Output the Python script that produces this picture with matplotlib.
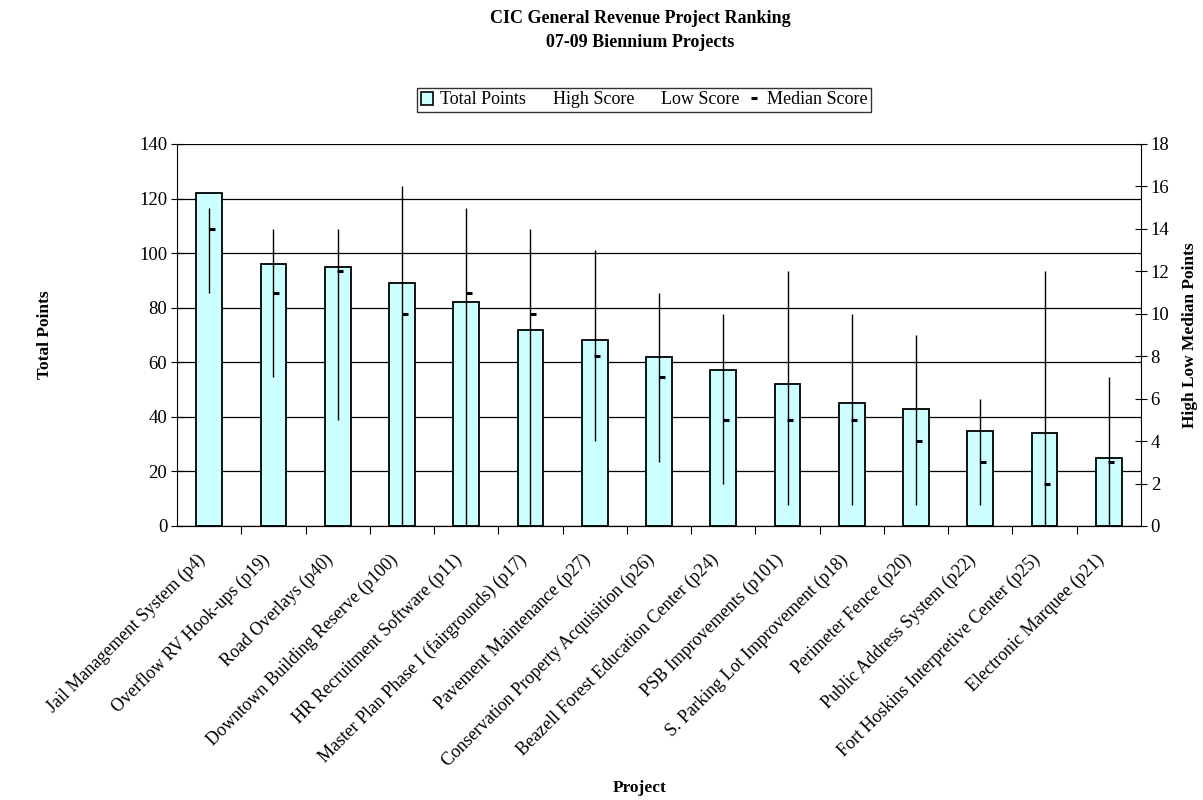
import matplotlib
matplotlib.use("Agg")
import matplotlib.pyplot as plt
import matplotlib.transforms as mtransforms
from matplotlib.lines import Line2D
from matplotlib.patches import Patch

projects = [
    "Jail Management System (p4)", "Overflow RV Hook-ups (p19)", "Road Overlays (p40)",
    "Downtown Building Reserve (p100)", "HR Recruitment Software (p11)",
    "Master Plan Phase I (fairgrounds) (p17)", "Pavement Maintenance (p27)",
    "Conservation Property Acquisition (p26)", "Beazell Forest Education Center (p24)",
    "PSB Improvements (p101)", "S. Parking Lot Improvement (p18)", "Perimeter Fence (p20)",
    "Public Address System (p22)", "Fort Hoskins Interpretive Center (p25)",
    "Electronic Marquee (p21)",
]
total_points = [122, 96, 95, 89, 82, 72, 68, 62, 57, 52, 45, 43, 35, 34, 25]
high_score = [15, 14, 14, 16, 15, 14, 13, 11, 10, 12, 10, 9, 6, 12, 7]
low_score = [11, 7, 5, 0, 0, 0, 4, 3, 2, 1, 1, 1, 1, 0, 0]
median_score = [14, 11, 12, 10, 11, 10, 8, 7, 5, 5, 5, 4, 3, 2, 3]

plt.rcParams["font.family"] = ["Liberation Serif", "DejaVu Serif"]
FS = 13.5

fig = plt.figure(figsize=(12.03, 8), dpi=100)
ax = fig.add_axes([177 / 1203, 1 - 526 / 800, (1141 - 177) / 1203, (526 - 144) / 800])
x = list(range(len(projects)))

ax.bar(x, total_points, width=0.4, color="#ccffff", edgecolor="black", linewidth=1.3, zorder=2)
ax.set_xlim(-0.5, len(projects) - 0.5)
ax.set_ylim(0, 140)
ax.set_yticks(range(0, 141, 20))
ax.yaxis.grid(True, color="black", linewidth=0.9)
ax.set_axisbelow(True)
ax.tick_params(axis="y", direction="inout", length=8, labelsize=FS, pad=3)
ax.set_xticks([i + 0.5 for i in x[:-1]])
ax.set_xticklabels([])
ax.tick_params(axis="x", direction="out", length=6)
for s in ["top", "right"]:
    ax.spines[s].set_visible(False)

# category labels, rotated, anchored a little left of and below each bar
lab_tr = mtransforms.blended_transform_factory(ax.transData, ax.transAxes) + \
    mtransforms.ScaledTranslation(-0.13, -0.25, fig.dpi_scale_trans)
for i, name in zip(x, projects):
    ax.text(i, 0, name, transform=lab_tr, rotation=45, ha="right", va="top",
            rotation_mode="anchor", fontsize=13)

ax2 = ax.twinx()
ax2.set_ylim(0, 18)
ax2.set_yticks(range(0, 19, 2))
ax2.tick_params(axis="y", direction="inout", length=8, labelsize=FS, pad=3)
for s in ["top", "left"]:
    ax2.spines[s].set_visible(False)
ax2.vlines(x, low_score, high_score, color="black", linewidth=1)
ax2.plot([i + 0.04 for i in x], median_score, ls="none", marker="_", ms=5, mew=2.2, color="black")

fig.text(0.532, 0.988, "CIC General Revenue Project Ranking\n07-09 Biennium Projects",
         ha="center", va="top", fontsize=13, fontweight="bold", linespacing=1.55)
fig.text(45 / 1203, 1 - 335 / 800, "Total Points", rotation=90, ha="center", va="center",
         fontsize=12.5, fontweight="bold")
fig.text(1190 / 1203, 1 - 335 / 800, "High Low Median Points", rotation=90, ha="center",
         va="center", fontsize=12.5, fontweight="bold")
fig.text(640 / 1203, 1 - 788 / 800, "Project", ha="center", va="center",
         fontsize=12.5, fontweight="bold")

handles = [
    Patch(facecolor="#ccffff", edgecolor="black", linewidth=1.2),
    Line2D([], [], ls="none"),
    Line2D([], [], ls="none"),
    Line2D([], [], ls="none", marker="_", ms=5, mew=2.2, color="black"),
]
fig.legend(handles, ["Total Points", "High Score", "Low Score", "Median Score"],
           loc="center", bbox_to_anchor=(644 / 1203, 1 - 100 / 800), ncol=4,
           fontsize=13, frameon=True, fancybox=False, edgecolor="black",
           handlelength=0.7, handletextpad=0.35, columnspacing=0.45, borderpad=0.2,
           borderaxespad=0)

fig.savefig("out.png", dpi=100)
